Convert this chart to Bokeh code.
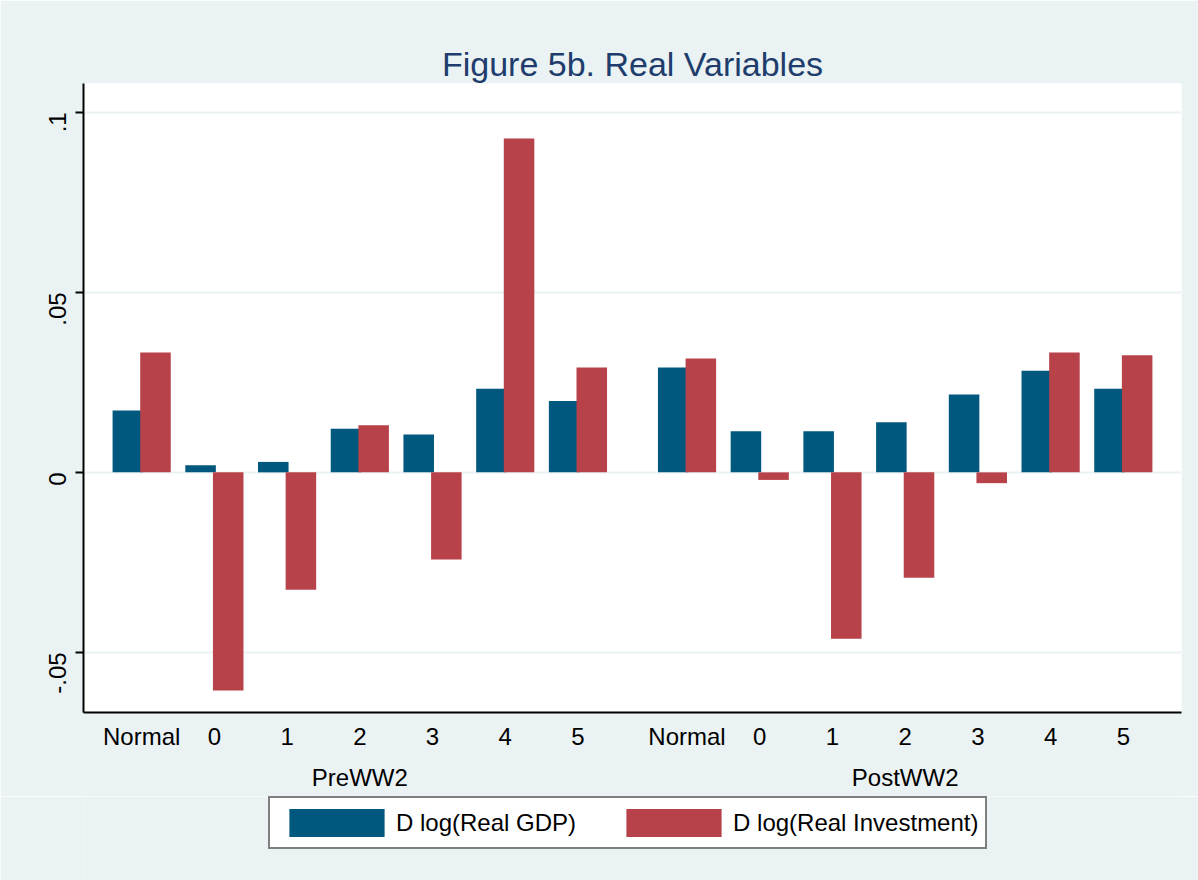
import math
from bokeh.plotting import figure
from bokeh.layouts import column
from bokeh.models import (ColumnDataSource, FixedTicker, LinearAxis, Legend,
                          LegendItem, Range1d)
from bokeh.embed import file_html
from bokeh.resources import INLINE

# ---- data ----
categories = ["Normal", "0", "1", "2", "3", "4", "5"]
groups = ["PreWW2", "PostWW2"]
pre_gdp = [0.0172, 0.0020, 0.0029, 0.0121, 0.0105, 0.0232, 0.0198]
pre_inv = [0.0333, -0.0606, -0.0326, 0.0131, -0.0242, 0.0927, 0.0291]
post_gdp = [0.0291, 0.0114, 0.0114, 0.0139, 0.0216, 0.0282, 0.0232]
post_inv = [0.0316, -0.0021, -0.0462, -0.0293, -0.0030, 0.0333, 0.0325]
y_ticks = [-0.05, 0.0, 0.05, 0.1]
y_tick_labels = ["-.05", "0", ".05", ".1"]
series_names = ["D log(Real GDP)", "D log(Real Investment)"]

BG = "#EAF2F3"
BLUE = "#01587E"
RED = "#B8424A"
TITLE_C = "#1E3D6C"
FONT = "Liberation Sans"

# category positions: second group starts after a gap of 1.5 slots
n = len(categories)
pos_pre = [float(i) for i in range(n)]
pos_post = [n + 0.5 + i for i in range(n)]
positions = pos_pre + pos_post
labels = categories + categories
gdp = pre_gdp + post_gdp
inv = pre_inv + post_inv
off = 0.19
bw = 0.42

src = ColumnDataSource(dict(
    xg=[x - off for x in positions],
    xi=[x + off for x in positions],
    gdp=gdp, inv=inv,
))

p = figure(width=1198, height=796, output_backend="svg", toolbar_location=None,
           x_range=Range1d(-0.8, positions[-1] + 0.8),
           y_range=Range1d(-0.0667, 0.108),
           min_border_left=83, min_border_right=17,
           min_border_top=83, min_border_bottom=84,
           x_axis_location=None, y_axis_location=None)
p.background_fill_color = "white"
p.border_fill_color = BG
p.outline_line_color = None

p.title.text = "Figure 5b. Real Variables"
p.title.text_font = FONT
p.title.text_font_size = "34px"
p.title.text_font_style = "normal"
p.title.text_color = TITLE_C
p.title.align = "center"
p.title.standoff = 2

r1 = p.vbar(x="xg", top="gdp", bottom=0, width=bw, source=src,
            fill_color=BLUE, line_color=None)
r2 = p.vbar(x="xi", top="inv", bottom=0, width=bw, source=src,
            fill_color=RED, line_color=None)

# y axis
yax = LinearAxis(ticker=FixedTicker(ticks=y_ticks))
yax.major_label_overrides = {t: l for t, l in zip(y_ticks, y_tick_labels)}
yax.major_label_orientation = math.pi / 2
yax.major_label_text_font = FONT
yax.major_label_text_font_size = "24px"
yax.major_label_text_color = "black"
yax.major_label_standoff = 18
yax.axis_line_color = "black"
yax.axis_line_width = 2
yax.major_tick_line_color = "black"
yax.major_tick_line_width = 2
yax.major_tick_in = 0
yax.major_tick_out = 8
yax.minor_tick_line_color = None
p.add_layout(yax, "left")

# x axis: categories
xax = LinearAxis(ticker=FixedTicker(ticks=positions))
xax.major_label_overrides = {t: l for t, l in zip(positions, labels)}
xax.major_label_text_font = FONT
xax.major_label_text_font_size = "24px"
xax.major_label_text_color = "black"
xax.major_label_standoff = 4
xax.axis_line_color = "black"
xax.axis_line_width = 2
xax.major_tick_line_color = None
xax.minor_tick_line_color = None
p.add_layout(xax, "below")

# x axis: group labels
gpos = [(pos_pre[0] + pos_pre[-1]) / 2, (pos_post[0] + pos_post[-1]) / 2]
gax = LinearAxis(ticker=FixedTicker(ticks=gpos))
gax.major_label_overrides = {t: l for t, l in zip(gpos, groups)}
gax.major_label_text_font = FONT
gax.major_label_text_font_size = "24px"
gax.major_label_text_color = "black"
gax.major_label_standoff = 5
gax.axis_line_color = None
gax.major_tick_line_color = None
gax.minor_tick_line_color = None
p.add_layout(gax, "below")

# grid
p.xgrid.grid_line_color = None
p.ygrid.ticker = FixedTicker(ticks=y_ticks)
p.ygrid.grid_line_color = BG
p.ygrid.grid_line_width = 2

# ---- legend strip below the chart ----
q = figure(width=1198, height=84, output_backend="svg", toolbar_location=None,
           x_range=Range1d(-0.8, positions[-1] + 0.8), y_range=Range1d(0, 1),
           min_border_left=83, min_border_right=17,
           min_border_top=0, min_border_bottom=0,
           x_axis_location=None, y_axis_location=None)
q.background_fill_color = BG
q.border_fill_color = BG
q.outline_line_color = None
q.xgrid.visible = False
q.ygrid.visible = False
# hidden stand-ins that only supply the legend swatches
l1 = q.vbar(x="xg", top="gdp", bottom=0, width=bw, source=src,
            fill_color=BLUE, line_color=None, visible=False)
l2 = q.vbar(x="xi", top="inv", bottom=0, width=bw, source=src,
            fill_color=RED, line_color=None, visible=False)

legend = Legend(items=[LegendItem(label=series_names[0], renderers=[l1]),
                       LegendItem(label=series_names[1], renderers=[l2])],
                orientation="horizontal", location=(185, 31),
                glyph_width=119, glyph_height=35, label_standoff=0,
                spacing=38, padding=7, margin=0,
                label_text_font=FONT, label_text_font_size="24px",
                label_text_color="black",
                inactive_fill_alpha=0,
                border_line_color="black", border_line_width=2,
                background_fill_color="white", background_fill_alpha=1)
q.add_layout(legend, "center")

html = file_html(column(p, q, spacing=0), INLINE)
html = html.replace("<body>", '<body style="background-color:%s">' % BG, 1)
open("out.html", "w").write(html)
